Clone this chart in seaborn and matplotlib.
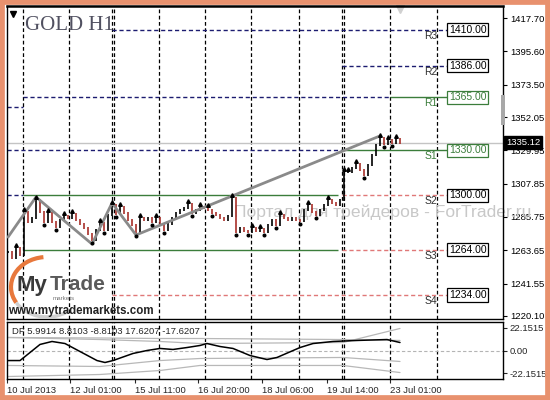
import numpy as np
import matplotlib
matplotlib.use("Agg")
import matplotlib.pyplot as plt
import matplotlib.transforms as mtransforms
from matplotlib.patches import Rectangle, Arc
import seaborn as sns

# ---------------- data ----------------
close = [1262.5, 1258.6, 1265.2, 1260.5, 1289.1, 1282.4, 1285.1, 1297.0, 1289.1, 1282.4,
         1288.4, 1282.4, 1279.1, 1283.8, 1286.4, 1285.1, 1287.7, 1283.8, 1281.1, 1278.4,
         1274.5, 1270.5, 1277.1, 1281.8, 1277.1, 1287.1, 1293.7, 1287.7, 1292.4, 1288.4,
         1283.8, 1280.4, 1275.1, 1285.1, 1283.8, 1285.1, 1282.4, 1285.1, 1281.1, 1277.1,
         1281.1, 1285.1, 1288.4, 1290.4, 1291.7, 1294.4, 1288.4, 1290.4, 1292.4, 1291.7,
         1290.4, 1288.4, 1287.1, 1285.1, 1283.8, 1286.4, 1298.3, 1275.8, 1278.4, 1276.5,
         1275.8, 1278.4, 1276.5, 1277.8, 1275.8, 1280.4, 1283.8, 1280.4, 1287.1, 1285.1,
         1283.8, 1285.1, 1283.8, 1283.1, 1290.4, 1293.7, 1289.1, 1287.1, 1290.4, 1293.7,
         1297.0, 1295.0, 1293.7, 1297.0, 1315.6, 1315.6, 1318.2, 1320.9, 1316.9, 1313.6,
         1320.2, 1326.9, 1333.5, 1338.1, 1334.1, 1336.8, 1334.8, 1337.5, 1335.12]
up_fractals = [2, 4, 7, 10, 14, 16, 23, 26, 28, 33, 37, 45, 48, 50, 56, 61, 63, 68, 75,
               80, 84, 85, 87, 93, 95, 97]
down_fractals = [9, 12, 21, 24, 27, 32, 36, 39, 46, 51, 57, 60, 64, 67, 73, 77, 89, 94, 96]
zz_bar = [0, 7, 21, 26, 32, 93]
zz_price = [1272.4, 1299.0, 1267.8, 1295.0, 1273.8, 1339.5]

level_names = ["R3", "R2", "R1", "S1", "S2", "S3", "S4"]
level_prices = [1410.0, 1386.0, 1365.0, 1330.0, 1300.0, 1264.0, 1234.0]
level_kind = ["plain", "plain", "green", "green", "plain", "plain", "plain"]
# history segments of the level lines: (price, start bar, end bar, style)
seg_price = [1410, 1386, 1365, 1365, 1358.7, 1330, 1330, 1300, 1300, 1300, 1264, 1264, 1234]
seg_start = [26, 83.5, 3.75, 95.5, -0.25, -0.25, 83.5, -0.25, 3.75, 83.5, 3.75, 83.5, 26]
seg_end = [109.75, 109.75, 95.5, 109.75, 3.75, 83.5, 109.75, 3.75, 82.5, 109.75, 82.5, 109.75, 109.75]
seg_style = ["navy", "navy", "navy", "green", "navy", "navy", "green", "navy", "green",
             "pink", "green", "pink", "pink"]

price_ticks = [1417.70, 1395.60, 1373.50, 1352.05, 1329.95, 1307.85, 1285.75, 1263.65,
               1241.55, 1220.10]
grid_bars = [3.75, 15.25, 26, 26.5, 37.75, 49.25, 60.75, 72.75, 83.5, 84, 95.5, 107.25]
time_ticks = [-0.25, 15.5, 31.75, 47.5, 63.5, 79.75, 95.5]
time_labels = ["10 Jul 2013", "12 Jul 01:00", "15 Jul 11:00", "16 Jul 20:00",
               "18 Jul 06:00", "19 Jul 14:00", "23 Jul 01:00"]

df_bar = [-0.25, 3, 4.25, 8, 11, 14.25, 18, 22.25, 24.25, 26.25, 31.25, 34.75, 38, 41.25,
          44.75, 48, 49.75, 53, 56.25, 60.5, 64.75, 67.25, 73, 76.25, 81.25, 87.25, 94.75, 98]
df_value = [-9.8, -9.8, -5.9, 5.9, 8.8, 6.8, -1.0, -9.8, -11.7, -9.8, -2.9, 0.0, 2.0, 1.0,
            2.9, 4.9, 6.8, 3.9, 2.0, -4.9, -8.8, -6.8, 2.9, 6.8, 8.8, 9.8, 10.7, 7.8]
band_bar = [-0.25, 23, 38, 48, 83.75, 98]
band_u1 = [12.7, 12.2, 11.7, 11.7, 10.7, 9.8]
band_u2 = [12.7, 10.7, 8.8, 6.8, 7.8, 21.5]
band_l1 = [-14.6, -15.6, -9.8, -7.8, -6.8, -10.7]
band_l2 = [-25.4, -23.4, -19.5, -14.6, -14.6, -21.5]
ind_ticks = [22.1515, 0.0, -22.1515]
ind_labels = ["22.1515", "0.00", "-22.1515"]

# ---------------- style ----------------
sns.set_style("white")
plt.rcParams["font.family"] = ["Liberation Sans", "DejaVu Sans"]

W, H = 550, 400
fig = plt.figure(figsize=(5.5, 4.0), dpi=100)
fig.patch.set_facecolor("white")

def fx(px):
    return px / W

def fy(py):
    return 1 - py / H

ax = fig.add_axes([fx(7), fy(319), 496 / W, 313 / H])
axi = fig.add_axes([fx(7), fy(379), 496 / W, 57 / H])

GREEN = "#3b7d3b"
NAVY = "#1c1c70"
PINK = "#e07878"
style_col = {"navy": NAVY, "green": GREEN, "pink": PINK}
style_ls = {"navy": (0, (3, 2)), "green": "-", "pink": (0, (3, 2))}

# ---------------- main price panel ----------------
c = np.array(close)
bars = np.arange(len(c))
o = np.r_[c[0], c[:-1]]
hi = np.maximum(o, c) + 0.9
lo = np.minimum(o, c) - 0.9
upm = c >= o

for g in grid_bars:
    ax.axvline(g, color="black", lw=0.9, ls=(0, (3, 2)), zorder=1)
    axi.axvline(g, color="black", lw=0.9, ls=(0, (3, 2)), zorder=1)

for p, s0, s1, st in zip(seg_price, seg_start, seg_end, seg_style):
    ax.hlines(p, s0, s1, color=style_col[st], lw=1.0, linestyles=style_ls[st], zorder=2)

# current price line
ax.axhline(close[-1], color="#c4c4c4", lw=1.0, zorder=1.5)

# watermark
ax.text(fx(234), fy(212), "Портал для трейдеров - ForTrader.ru", transform=fig.transFigure,
        color="#c8c8c8", fontsize=12.6, ha="left", va="center", zorder=1.6, clip_on=False)

ax.vlines(bars[upm], lo[upm], hi[upm], color="black", lw=1.2, zorder=3)
ax.vlines(bars[~upm], lo[~upm], hi[~upm], color="#a8302a", lw=1.2, zorder=3)

uf = np.array(up_fractals)
df = np.array(down_fractals)
ax.plot(uf, hi[uf] + 1.2, ls="none", marker="^", ms=2.6, color="black", zorder=4)
ax.plot(df, lo[df] - 1.2, ls="none", marker="o", ms=1.9, color="black", zorder=4)

sns.lineplot(x=zz_bar, y=zz_price, ax=ax, color="#8a8a8a", lw=2.0, zorder=3.5)

# level labels and boxes
for name, p, kind in zip(level_names, level_prices, level_kind):
    col = GREEN if kind == "green" else "black"
    ncol = GREEN if kind == "green" else "#303030"
    ax.text(107.4, p - 0.6, name, color=ncol, fontsize=7.5, ha="right", va="top", zorder=5)
    ax.text(110.2, p, f"{p:.2f}", color=col, fontsize=7.5, ha="left", va="center", zorder=5,
            bbox=dict(boxstyle="square,pad=0.15", facecolor="white", edgecolor=col, lw=0.9))

ax.set_xlim(-0.25, 123.75)
ax.set_ylim(1218.1, 1425.66)
ax.yaxis.tick_right()
ax.set_yticks(price_ticks)
ax.set_yticklabels([f"{v:.2f}" for v in price_ticks])
ax.tick_params(axis="y", direction="out", length=3, width=0.8, labelsize=6.8, pad=2,
               right=True, left=False, colors="black")
ax.set_xticks([])
ax.set_xlabel("")
ax.set_ylabel("")
for sp in ax.spines.values():
    sp.set_color("black")
    sp.set_linewidth(1.0)
ax.spines["top"].set_linewidth(1.8)

# current price tag
tr = mtransforms.blended_transform_factory(ax.transAxes, ax.transData)
ax.text(1.006, close[-1], f"{close[-1]:.2f}", transform=tr, color="white", fontsize=6.8,
        ha="left", va="center", zorder=6, clip_on=False,
        bbox=dict(boxstyle="square,pad=0.2", facecolor="black", edgecolor="black"))

# title and small markers
ax.text(fx(25), fy(26), "GOLD H1", transform=fig.transFigure, fontsize=15,
        family=["Liberation Serif", "DejaVu Serif"], color="#505060", ha="left", va="center",
        zorder=6)
ax.plot([0.012], [0.974], transform=ax.transAxes, marker="v", ms=4, color="black",
        clip_on=False)
ax.plot([(400 - 7) / 496], [0.992], transform=ax.transAxes, marker="v", ms=6,
        color="#d0d0d0", clip_on=False)

# ---------------- indicator panel ----------------
axi.axhline(0, color="#b4b4b4", lw=0.8, ls=(0, (3, 2)), zorder=1)
for band in (band_u1, band_u2, band_l1, band_l2):
    sns.lineplot(x=band_bar, y=band, ax=axi, color="#b8b8b8", lw=0.9, zorder=2)
sns.lineplot(x=df_bar, y=df_value, ax=axi, color="black", lw=1.1, zorder=3)
axi.set_xlim(-0.25, 123.75)
axi.set_ylim(-27.8, 27.8)
axi.yaxis.tick_right()
axi.set_yticks(ind_ticks)
axi.set_yticklabels(ind_labels)
axi.tick_params(axis="y", direction="out", length=3, width=0.8, labelsize=6.8, pad=2,
                right=True, left=False)
axi.set_xticks(time_ticks)
axi.set_xticklabels(time_labels)
axi.tick_params(axis="x", direction="out", length=3, width=0.8, labelsize=6.8, pad=2,
                bottom=True)
for lab in axi.get_xticklabels():
    lab.set_horizontalalignment("left")
axi.set_xlabel("")
axi.set_ylabel("")
for sp in axi.spines.values():
    sp.set_color("black")
    sp.set_linewidth(1.0)
axi.text(0.01, 0.84, "DF 5.9914 8.8103 -8.8103 17.6207 -17.6207", transform=axi.transAxes,
         fontsize=6.8, ha="left", va="center")

# ---------------- logo ----------------
fig.add_artist(Arc((fx(47), fy(287)), 72 / W, 60 / H, theta1=95, theta2=215,
                   transform=fig.transFigure, color="#e8783c", lw=3))
fig.add_artist(Arc((fx(47), fy(287)), 72 / W, 60 / H, theta1=215, theta2=300,
                   transform=fig.transFigure, color="#d0d0d0", lw=2.5))
fig.text(fx(16), fy(285), "My", fontsize=16, fontweight="bold", color="#3a3a3a",
         ha="left", va="center")
fig.text(fx(50), fy(285), "Trade", fontsize=15, fontweight="bold", color="#5a5a5a",
         ha="left", va="center")
fig.text(fx(53), fy(298), "markets", fontsize=4.5, color="#777777", ha="left", va="center")
fig.text(fx(8), fy(311), "www.mytrademarkets.com", fontsize=8.3, fontweight="bold",
         color="#222222", ha="left", va="center")

# scroll thumb and frame
fig.add_artist(Rectangle((fx(501), fy(125)), 3.5 / W, 30 / H, transform=fig.transFigure,
                         facecolor="#a8a8a8", edgecolor="none"))
fig.add_artist(Rectangle((0, 0), 1, 1, transform=fig.transFigure, fill=False,
                         edgecolor="#e8916e", lw=7))

fig.savefig("out.png", dpi=100)
